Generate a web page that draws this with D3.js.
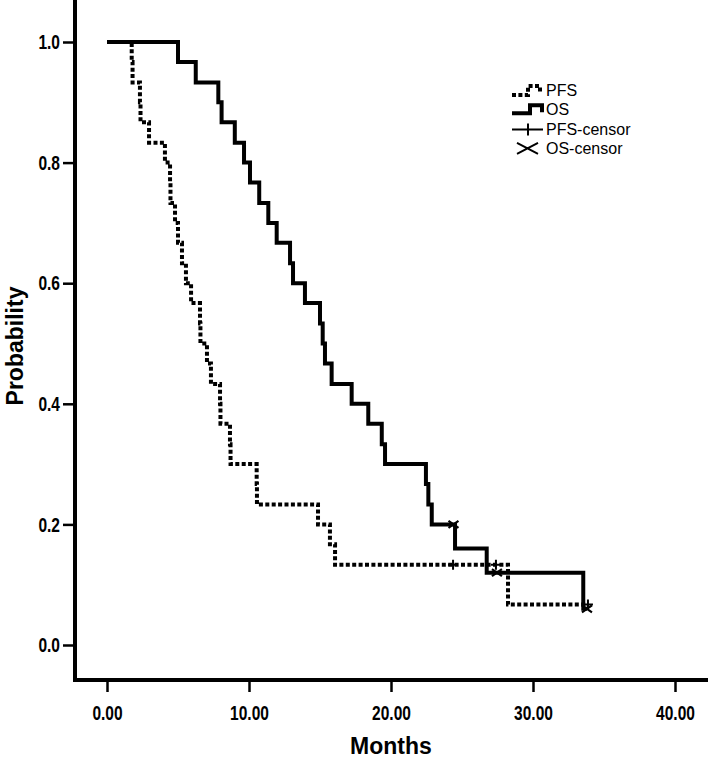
<!DOCTYPE html>
<html>
  <head>
    <script src="https://d3js.org/d3.v7.min.js"></script>
    <style>
      body {
        margin: 0;
        background-color: #ffffff;
      }

      .axis_Title {
        font-family: "Liberation Sans", Arial, sans-serif;
        font-weight: bold;
        font-size: 23px;
        fill: #000000;
      }

      .legend_Text {
        font-family: "Liberation Sans", Arial, sans-serif;
        font-size: 16px;
        fill: #000000;
      }
    </style>
  </head>

  <body>
    <div id="chartContainer"></div>
  </body>

  <script type="text/javascript">
    // PFS steps (months, survival probability)
    const pfsTimes = [0, 1.74, 1.8, 2.32, 2.36, 2.96, 4.08, 4.44, 4.47, 4.79, 5.0, 5.28, 5.56, 5.92, 6.55, 6.58, 7.04, 7.32, 7.96, 7.99, 8.66, 8.7, 10.54, 10.56, 14.86, 15.7, 16.06, 28.24, 33.87];
    const pfsSurv = [1.0, 0.967, 0.933, 0.9, 0.867, 0.833, 0.8, 0.767, 0.733, 0.7, 0.667, 0.633, 0.6, 0.567, 0.533, 0.5, 0.467, 0.433, 0.4, 0.367, 0.333, 0.3, 0.267, 0.233, 0.2, 0.167, 0.133, 0.067, 0.067];
    const pfsCensorTimes = [24.37, 27.39, 33.87];
    const pfsCensorSurv = [0.133, 0.133, 0.067];

    // OS steps
    const osTimes = [0, 5.0, 6.25, 7.84, 8.07, 9.0, 9.65, 10.07, 10.72, 11.36, 11.95, 12.89, 13.1, 13.94, 15.0, 15.19, 15.35, 15.82, 17.23, 18.4, 19.35, 19.58, 22.46, 22.63, 22.87, 24.51, 26.74, 33.54, 33.8];
    const osSurv = [1.0, 0.967, 0.933, 0.9, 0.867, 0.833, 0.8, 0.767, 0.733, 0.7, 0.667, 0.633, 0.6, 0.567, 0.533, 0.5, 0.467, 0.433, 0.4, 0.367, 0.333, 0.3, 0.267, 0.233, 0.2, 0.16, 0.12, 0.06, 0.06];
    const osCensorTimes = [24.4, 27.46, 33.8];
    const osCensorSurv = [0.2, 0.12, 0.06];

    const xTicks = [0, 10, 20, 30, 40];
    const yTicks = [0, 0.2, 0.4, 0.6, 0.8, 1.0];
    const legendLabels = ["PFS", "OS", "PFS-censor", "OS-censor"];

    const width = 708,
      height = 759;

    const svg = d3
      .select("#chartContainer")
      .append("svg")
      .attr("width", width)
      .attr("height", height);

    const x = d3.scaleLinear().domain([0, 40]).range([107, 675]);
    const y = d3.scaleLinear().domain([0, 1]).range([645, 42]);

    const axisX = 75,
      axisY = 680;

    // bold narrow-looking tick labels
    const narrow = function (sel) {
      sel.each(function () {
        const t = d3.select(this);
        const x0 = +t.attr("x") || 0;
        const y0 = +t.attr("y") || 0;
        t.attr("x", 0)
          .attr("y", 0)
          .attr("transform", `translate(${x0},${y0}) scale(0.74,1)`)
          .style("font-family", '"Liberation Sans", Arial, sans-serif')
          .style("font-weight", "bold")
          .style("font-size", "21px")
          .style("fill", "#000");
      });
    };

    // axes
    const yAxis = svg
      .append("g")
      .attr("transform", `translate(${axisX}, 0)`)
      .call(
        d3.axisLeft(y).tickValues(yTicks).tickFormat(d3.format(".1f")).tickSize(12).tickPadding(3)
      );
    yAxis.select(".domain").remove();
    yAxis.selectAll(".tick line").attr("stroke", "#000").attr("stroke-width", 2.5);
    yAxis.selectAll(".tick text").call(narrow);

    const xAxis = svg
      .append("g")
      .attr("transform", `translate(0, ${axisY})`)
      .call(
        d3.axisBottom(x).tickValues(xTicks).tickFormat(d3.format(".2f")).tickSize(12).tickPadding(13)
      );
    xAxis.select(".domain").remove();
    xAxis.selectAll(".tick line").attr("stroke", "#000").attr("stroke-width", 2.5);
    xAxis.selectAll(".tick text").call(narrow);

    svg
      .append("line")
      .attr("x1", axisX)
      .attr("x2", axisX)
      .attr("y1", 0)
      .attr("y2", axisY + 2)
      .attr("stroke", "#000")
      .attr("stroke-width", 4);

    svg
      .append("line")
      .attr("x1", axisX - 2)
      .attr("x2", width)
      .attr("y1", axisY)
      .attr("y2", axisY)
      .attr("stroke", "#000")
      .attr("stroke-width", 4);

    svg
      .append("text")
      .attr("class", "axis_Title")
      .attr("text-anchor", "middle")
      .attr("transform", "translate(23, 346) rotate(-90)")
      .text("Probability");

    svg
      .append("text")
      .attr("class", "axis_Title")
      .attr("text-anchor", "middle")
      .attr("x", 391)
      .attr("y", 754)
      .text("Months");

    // curves
    const stepLine = d3
      .line()
      .x((d) => x(d[0]))
      .y((d) => y(d[1]))
      .curve(d3.curveStepAfter);

    const pfsData = pfsTimes.map((t, i) => [t, pfsSurv[i]]);
    const osData = osTimes.map((t, i) => [t, osSurv[i]]);

    svg
      .append("path")
      .datum(osData)
      .attr("d", stepLine)
      .attr("fill", "none")
      .attr("stroke", "#000")
      .attr("stroke-width", 4);

    svg
      .append("path")
      .datum(pfsData)
      .attr("d", stepLine)
      .attr("fill", "none")
      .attr("stroke", "#000")
      .attr("stroke-width", 4)
      .attr("stroke-dasharray", "4 2.4");

    // censor marks
    const plus = (g, cx, cy, s) => {
      g.append("path")
        .attr("d", `M${cx - s},${cy}H${cx + s}M${cx},${cy - s}V${cy + s}`)
        .attr("stroke", "#000")
        .attr("stroke-width", 2)
        .attr("fill", "none");
    };
    const cross = (g, cx, cy, s) => {
      g.append("path")
        .attr("d", `M${cx - s},${cy - s * 0.7}L${cx + s},${cy + s * 0.7}M${cx - s},${cy + s * 0.7}L${cx + s},${cy - s * 0.7}`)
        .attr("stroke", "#000")
        .attr("stroke-width", 2.2)
        .attr("fill", "none");
    };

    const marks = svg.append("g");
    pfsCensorTimes.forEach((t, i) => plus(marks, x(t), y(pfsCensorSurv[i]), 5));
    osCensorTimes.forEach((t, i) => cross(marks, x(t), y(osCensorSurv[i]), 5));

    // legend
    const legend = svg.append("g").attr("transform", "translate(512, 0)");
    const rowY = (i) => 96 + i * 19.3;

    legend
      .selectAll("text")
      .data(legendLabels)
      .enter()
      .append("text")
      .attr("class", "legend_Text")
      .attr("x", 34)
      .attr("y", (d, i) => rowY(i))
      .text((d) => d);

    legend
      .append("path")
      .attr("d", `M0,${rowY(0) - 1}H16V${rowY(0) - 10}H28V${rowY(0) - 4}`)
      .attr("fill", "none")
      .attr("stroke", "#000")
      .attr("stroke-width", 4)
      .attr("stroke-dasharray", "4 2.4");

    legend
      .append("path")
      .attr("d", `M0,${rowY(1) - 2}H18V${rowY(1) - 10}H30V${rowY(1) - 3}`)
      .attr("fill", "none")
      .attr("stroke", "#000")
      .attr("stroke-width", 4);

    legend
      .append("path")
      .attr("d", `M0,${rowY(2) - 5}H31M16,${rowY(2) - 11}V${rowY(2) + 1}`)
      .attr("fill", "none")
      .attr("stroke", "#000")
      .attr("stroke-width", 2);

    legend
      .append("path")
      .attr("d", `M5,${rowY(3) - 11}L26,${rowY(3)}M5,${rowY(3)}L26,${rowY(3) - 11}`)
      .attr("fill", "none")
      .attr("stroke", "#000")
      .attr("stroke-width", 2);
  </script>
</html>
